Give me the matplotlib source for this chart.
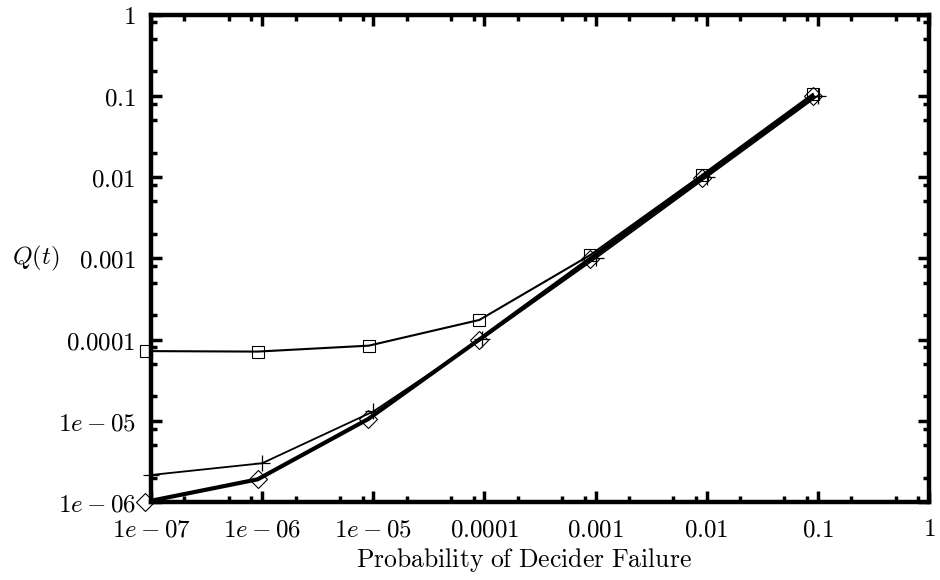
import matplotlib
matplotlib.use("Agg")
import matplotlib.pyplot as plt
from matplotlib.ticker import FixedLocator, FixedFormatter, LogLocator, NullFormatter

plt.rcParams['mathtext.fontset'] = 'cm'

# decider failure probabilities (square and diamond runs sit slightly below each decade)
x_box = [9e-8, 9.1e-7, 9.1e-6, 9e-5, 9e-4, 9e-3, 9e-2]
x_plus = [1e-7, 1e-6, 1e-5, 9.5e-5, 1e-3, 1e-2, 1e-1]
x_diam = [8.8e-8, 9.1e-7, 9e-6, 9e-5, 9e-4, 9e-3, 9e-2]

q_box = [7.2e-5, 7.1e-5, 8.4e-5, 1.74e-4, 1.1e-3, 1.05e-2, 0.105]
q_plus = [2.15e-6, 3.0e-6, 1.3e-5, 1.02e-4, 1.0e-3, 1.0e-2, 0.1]
q_diam = [1.0e-6, 1.9e-6, 1.05e-5, 1.0e-4, 9.9e-4, 9.8e-3, 0.098]

xticks = [1e-7, 1e-6, 1e-5, 1e-4, 1e-3, 1e-2, 1e-1, 1]
xtick_labels = ['$1e-07$', '$1e-06$', '$1e-05$', '$0.0001$', '$0.001$', '$0.01$', '$0.1$', '$1$']
yticks = [1e-6, 1e-5, 1e-4, 1e-3, 1e-2, 1e-1, 1]
ytick_labels = ['$1e-06$', '$1e-05$', '$0.0001$', '$0.001$', '$0.01$', '$0.1$', '$1$']

fig = plt.figure(figsize=(9.4, 5.8), dpi=100)
ax = fig.add_axes([151 / 940, 1 - 502 / 580, 778 / 940, 487.5 / 580])
ax.set_xscale('log')
ax.set_yscale('log')
ax.set_xlim(1e-7, 1)
ax.set_ylim(1e-6, 1)

# lines are clipped at the frame, markers are not
ax.plot(x_box, q_box, color='black', lw=1.5, zorder=3)
ax.plot(x_plus, q_plus, color='black', lw=1.3, zorder=3)
ax.plot(x_diam, q_diam, color='black', lw=3.0, zorder=3)
ax.plot(x_box, q_box, ls='none', marker='s', ms=9, mfc='none', mec='black', mew=0.8, clip_on=False, zorder=4)
ax.plot(x_plus, q_plus, ls='none', marker='+', ms=12, mec='black', mew=0.9, clip_on=False, zorder=4)
ax.plot(x_diam, q_diam, ls='none', marker='D', ms=9, mfc='none', mec='black', mew=0.8, clip_on=False, zorder=4)

ax.xaxis.set_major_locator(FixedLocator(xticks))
ax.xaxis.set_major_formatter(FixedFormatter(xtick_labels))
ax.yaxis.set_major_locator(FixedLocator(yticks))
ax.yaxis.set_major_formatter(FixedFormatter(ytick_labels))
for axis in (ax.xaxis, ax.yaxis):
    axis.set_minor_locator(LogLocator(base=10, subs=(2, 5, 8), numticks=20))
    axis.set_minor_formatter(NullFormatter())

ax.tick_params(which='both', direction='in', top=True, right=True, width=2.5, labelsize=18)
ax.tick_params(which='major', length=8)
ax.tick_params(which='minor', length=4.5)
ax.tick_params(axis='x', which='major', pad=11)
ax.tick_params(axis='y', which='major', pad=11)
for s in ax.spines.values():
    s.set_linewidth(3.2)

fig.text(524 / 940, 1 - 560 / 580, r'$\mathrm{Probability\ of\ Decider\ Failure}$',
         ha='center', va='center', fontsize=18.5)
fig.text(12 / 940, 1 - 258 / 580, r'$Q(t)$', ha='left', va='center', fontsize=18)

fig.savefig('out.png', dpi=100)
